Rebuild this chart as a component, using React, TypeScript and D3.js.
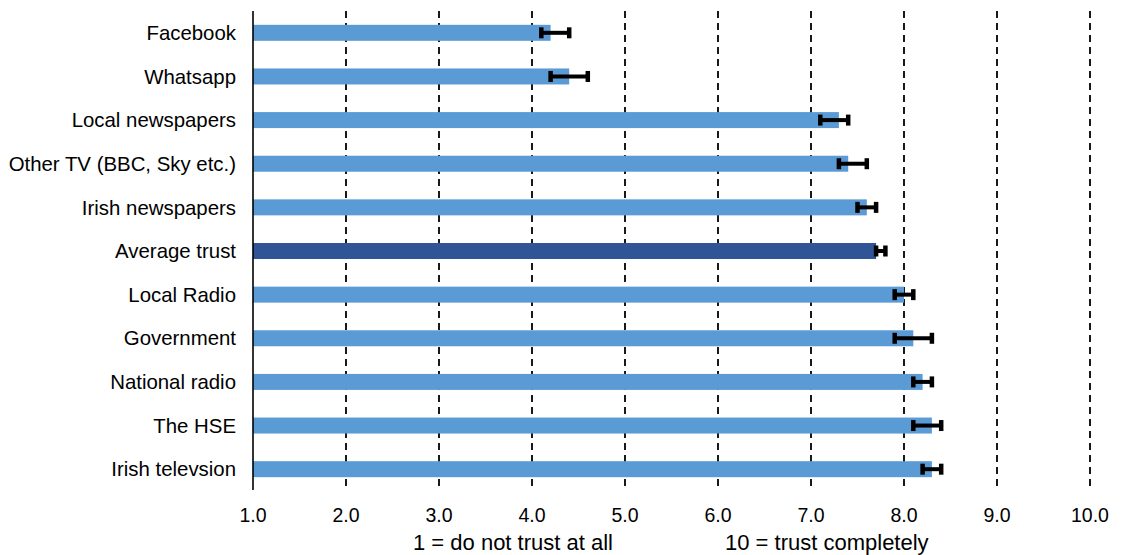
import React from "react";
import * as d3 from "d3";

const categories = [
  "Facebook",
  "Whatsapp",
  "Local newspapers",
  "Other TV (BBC, Sky etc.)",
  "Irish newspapers",
  "Average trust",
  "Local Radio",
  "Government",
  "National radio",
  "The HSE",
  "Irish televsion",
];
const values = [4.2, 4.4, 7.3, 7.4, 7.6, 7.7, 8.0, 8.1, 8.2, 8.3, 8.3];
const errLow = [4.1, 4.2, 7.1, 7.3, 7.5, 7.7, 7.9, 7.9, 8.1, 8.1, 8.2];
const errHigh = [4.4, 4.6, 7.4, 7.6, 7.7, 7.8, 8.1, 8.3, 8.3, 8.4, 8.4];
const highlight = "Average trust";
const xTicks = [1, 2, 3, 4, 5, 6, 7, 8, 9, 10];
const captionLeft = "1 = do not trust at all";
const captionRight = "10 = trust completely";

const W = 1121;
const H = 555;
const FONT = "'Liberation Sans', Arial, sans-serif";

export default function App() {
  const x = d3.scaleLinear().domain([1, 10]).range([253, 1090]);
  const y = d3.scaleBand<string>().domain(categories).range([11, 491]);
  const barH = 16;
  const top = 11;
  const bottom = 491;
  const fmt = d3.format(".1f");

  return (
    <svg
      width={W}
      height={H}
      style={{ position: "absolute", left: 0, top: 0, display: "block", background: "#fff" }}
      fontFamily={FONT}
    >
      {/* grid lines */}
      {xTicks.slice(1).map((t) => (
        <line
          key={"g" + t}
          x1={x(t)}
          x2={x(t)}
          y1={top}
          y2={bottom - 1}
          stroke="#000"
          strokeWidth={1.8}
          strokeDasharray="7,5"
        />
      ))}
      {/* bars */}
      {categories.map((c, i) => {
        const cy = (y(c) as number) + y.bandwidth() / 2;
        return (
          <rect
            key={"b" + c}
            x={x(1)}
            y={cy - barH / 2}
            width={x(values[i]) - x(1)}
            height={barH}
            fill={c === highlight ? "#2F5597" : "#5B9BD5"}
          />
        );
      })}
      {/* error bars */}
      {categories.map((c, i) => {
        const cy = (y(c) as number) + y.bandwidth() / 2;
        const x0 = x(errLow[i]);
        const x1 = x(errHigh[i]);
        return (
          <g key={"e" + c} stroke="#000">
            <line x1={x0} x2={x1} y1={cy} y2={cy} strokeWidth={4} />
            <line x1={x0} x2={x0} y1={cy - 5.5} y2={cy + 5.5} strokeWidth={4.5} />
            <line x1={x1} x2={x1} y1={cy - 5.5} y2={cy + 5.5} strokeWidth={4.5} />
          </g>
        );
      })}
      {/* y axis line */}
      <line x1={x(1)} x2={x(1)} y1={top} y2={bottom - 1} stroke="#000" strokeWidth={1.6} />
      {/* category labels */}
      {categories.map((c) => {
        const cy = (y(c) as number) + y.bandwidth() / 2;
        return (
          <text
            key={"l" + c}
            x={236}
            y={cy}
            dy="0.35em"
            textAnchor="end"
            fontSize={20.4}
            fill="#000"
          >
            {c}
          </text>
        );
      })}
      {/* tick labels */}
      {xTicks.map((t) => (
        <text
          key={"t" + t}
          x={x(t)}
          y={522}
          textAnchor="middle"
          fontSize={19.5}
          fill="#000"
        >
          {fmt(t)}
        </text>
      ))}
      <text x={413} y={550} fontSize={22} fill="#000">
        {captionLeft}
      </text>
      <text x={725} y={550} fontSize={22} fill="#000">
        {captionRight}
      </text>
    </svg>
  );
}
